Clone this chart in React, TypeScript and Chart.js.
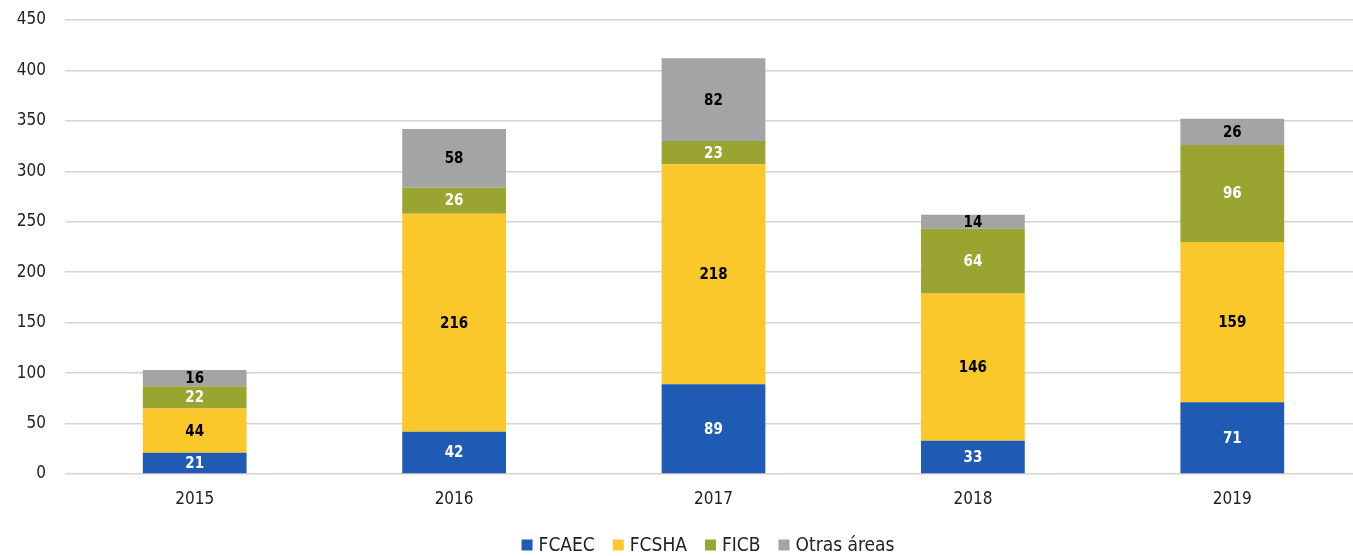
import React, { useEffect, useRef } from "react";
import { Chart, registerables } from "chart.js";

Chart.register(...registerables);

const years = ["2015", "2016", "2017", "2018", "2019"];
const fcaec = [21, 42, 89, 33, 71];
const fcsha = [44, 216, 218, 146, 159];
const ficb = [22, 26, 23, 64, 96];
const otras = [16, 58, 82, 14, 26];
const seriesNames = ["FCAEC", "FCSHA", "FICB", "Otras áreas"];
const seriesColors = ["#1f5bb4", "#fac82b", "#9aa531", "#a4a4a7"];
const labelColors = ["#ffffff", "#000000", "#ffffff", "#000000"];

const FONT = "'Liberation Sans Narrow', 'DejaVu Sans Condensed', 'Arial Narrow', sans-serif";

const segmentLabels = {
  id: "segmentLabels",
  afterDatasetsDraw(chart: any) {
    const ctx = chart.ctx;
    ctx.save();
    ctx.font = `bold 15px ${FONT}`;
    ctx.textAlign = "center";
    ctx.textBaseline = "middle";
    chart.data.datasets.forEach((ds: any, di: number) => {
      const meta = chart.getDatasetMeta(di);
      meta.data.forEach((bar: any, i: number) => {
        const v = ds.data[i];
        const yc = (bar.y + bar.base) / 2;
        ctx.fillStyle = labelColors[di];
        ctx.fillText(String(v), bar.x, yc + 1);
      });
    });
    ctx.restore();
  },
};

const bottomLegend = {
  id: "bottomLegend",
  afterDraw(chart: any) {
    const ctx = chart.ctx;
    ctx.save();
    ctx.font = `19px ${FONT}`;
    ctx.textBaseline = "middle";
    const box = 11, gapBox = 6, gapItem = 18;
    const ds = chart.data.datasets;
    const widths = ds.map((d: any) => box + gapBox + ctx.measureText(d.label).width);
    const total = widths.reduce((a: number, b: number) => a + b, 0) + gapItem * (ds.length - 1);
    let x = 708 - total / 2;
    const y = 545;
    ds.forEach((d: any, i: number) => {
      ctx.fillStyle = d.backgroundColor;
      ctx.fillRect(x, y - box / 2, box, box);
      ctx.fillStyle = "#222";
      ctx.textAlign = "left";
      ctx.fillText(d.label, x + box + gapBox, y + 1);
      x += widths[i] + gapItem;
    });
    ctx.restore();
  },
};

export default function App() {
  const ref = useRef<HTMLCanvasElement>(null);
  useEffect(() => {
    const data = [fcaec, fcsha, ficb, otras];
    const chart = new Chart(ref.current!, {
      type: "bar",
      data: {
        labels: years,
        datasets: data.map((d, i) => ({
          label: seriesNames[i],
          data: d,
          backgroundColor: seriesColors[i],
          borderWidth: 0,
          barPercentage: 0.4,
          categoryPercentage: 1,
        })),
      },
      options: {
        responsive: false,
        animation: false,
        layout: { padding: { top: 20, right: 0, left: 0, bottom: 27 } },
        scales: {
          x: {
            stacked: true,
            grid: { display: false, drawTicks: false },
            border: { display: false },
            ticks: { color: "#222", font: { family: FONT, size: 17 }, padding: 15 },
            afterFit: (s: any) => { s.height = 55; },
          },
          y: {
            stacked: true,
            min: 0,
            max: 450,
            ticks: { stepSize: 50, color: "#222", font: { family: FONT, size: 17 }, padding: 19 },
            grid: { color: "#dcd2d2", lineWidth: 1.5, drawTicks: false },
            border: { display: false },
            afterFit: (s: any) => { s.width = 65; s.paddingTop = 0; s.paddingBottom = 0; },
          },
        },
        plugins: {
          legend: { display: false },
          tooltip: { enabled: false },
        },
      },
      plugins: [segmentLabels, bottomLegend],
    });
    return () => chart.destroy();
  }, []);
  return (
    <div style={{ position: "fixed", left: 0, top: 0, width: 1353, height: 556, overflow: "hidden", background: "#fff" }}>
      <canvas ref={ref} width={1362} height={556} />
    </div>
  );
}
